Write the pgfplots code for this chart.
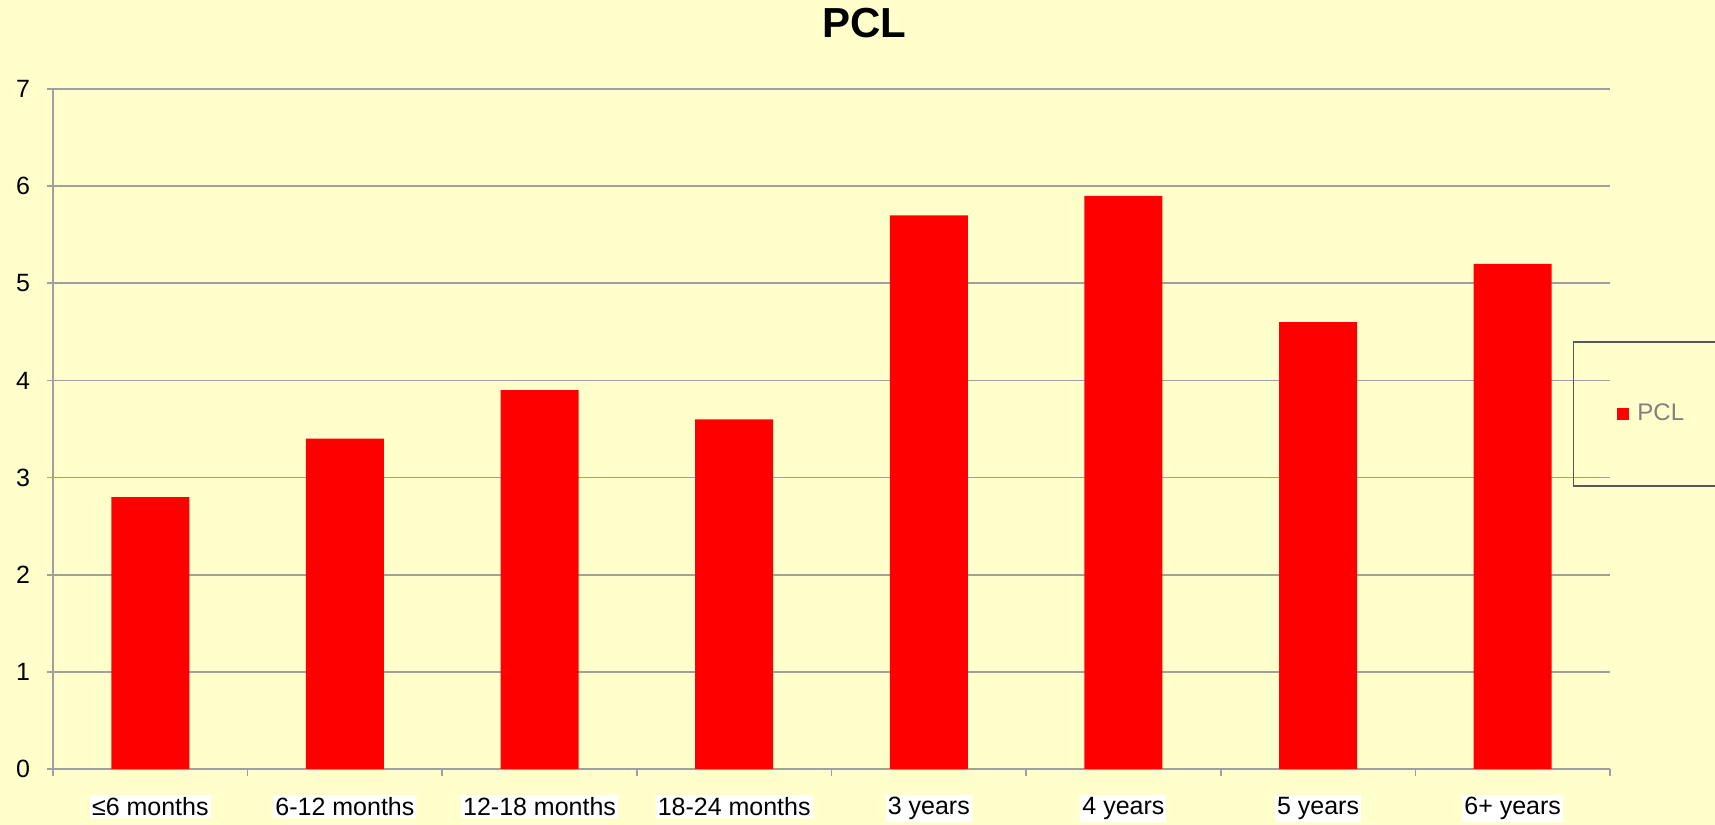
\documentclass[border=0pt]{standalone}
\usepackage{fontspec}
\setmainfont{Liberation Sans}
\usepackage{pgfplots}
\pgfplotsset{compat=1.18}
\definecolor{bg}{HTML}{FFFFCC}
\definecolor{gridc}{HTML}{A0A0A0}
\definecolor{legtext}{HTML}{808080}
\begin{document}
\begin{tikzpicture}
\fill[bg] (0,0) rectangle (857.5pt,412.5pt);
\useasboundingbox (0,0) rectangle (857.5pt,412.5pt);
\begin{axis}[
  at={(26.5pt,28pt)}, anchor=south west,
  scale only axis, width=778.5pt, height=340pt,
  xmin=-0.5, xmax=7.5, ymin=0, ymax=7,
  ybar, bar width=39pt,
  axis lines=left,
  axis line style={-, gridc, line width=0.8pt},
  xtick={0,...,7},
  xticklabels={{≤6 months},{6-12 months},{12-18 months},{18-24 months},{3 years},{4 years},{5 years},{6+ years}},
  major x tick style={draw=none},
  minor xtick={-0.5,0.5,...,7.5},
  minor x tick style={gridc, line width=0.8pt},
  minor tick length=3.5pt,
  ytick={0,...,7},
  ytick style={gridc, line width=0.8pt},
  major tick length=3pt,
  tick align=outside,
  ymajorgrids,
  grid style={gridc, line width=0.8pt},
  /pgf/number format/assume math mode=true,
  ticklabel style={font=\fontsize{12.5}{14}\selectfont, text=black},
  xticklabel style={fill=white, inner sep=1pt, yshift=-10pt},
  yticklabel style={xshift=-5pt},
  title={\textbf{PCL}},
  title style={at={(0.521,1)}, anchor=center, yshift=27pt, font=\fontsize{21}{25}\selectfont},
  legend style={at={(0.976,0.629)}, anchor=north west, draw=black!65, line width=0.8pt, fill=none,
    inner xsep=22pt, inner ysep=29pt, font=\fontsize{12}{14}\selectfont, text=legtext},
  legend image code/.code={\fill[red] (0pt,-3pt) rectangle (6pt,3pt);},
]
\addplot[fill=red, draw=none] coordinates {
 (0,2.8) (1,3.4) (2,3.9) (3,3.6) (4,5.7) (5,5.9) (6,4.6) (7,5.2)};
\addlegendentry{\hspace{2pt}PCL}
\end{axis}
\end{tikzpicture}
\end{document}
